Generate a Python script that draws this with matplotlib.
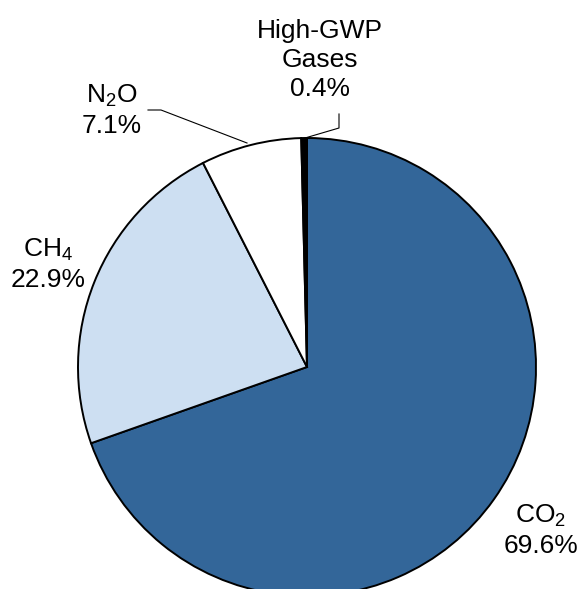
import matplotlib.pyplot as plt

plt.rcParams["font.family"] = ["Liberation Sans", "DejaVu Sans"]
plt.rcParams["mathtext.fontset"] = "custom"
plt.rcParams["mathtext.rm"] = "Liberation Sans"

gases = ["CO$_\\mathregular{2}$", "CH$_\\mathregular{4}$", "N$_\\mathregular{2}$O", "High-GWP\nGases"]
shares = [69.6, 22.9, 7.1, 0.4]
colors = ["#336699", "#cddff2", "#ffffff", "#000000"]

W, H = 581, 589
fig = plt.figure(figsize=(W / 100, H / 100), dpi=100)
ax = fig.add_axes([0, 0, 1, 1])

# pie in pixel-like coordinates (y flipped)
ax.pie(shares, colors=colors, startangle=90, counterclock=False,
       center=(307, H - 367), radius=229,
       wedgeprops=dict(edgecolor="black", linewidth=1.4))

ax.set_xlim(0, W)
ax.set_ylim(0, H)
ax.set_aspect("equal")
ax.axis("off")

fs = 19
labels = [f"{g}\n{s}%" for g, s in zip(gases, shares)]
pos = [(541, H - 530), (48, H - 264), (112, H - 110), (320, H - 60)]
for lab, (x, y) in zip(labels, pos):
    ax.text(x, y, lab, ha="center", va="center", fontsize=fs, linespacing=1.25)

# leader lines
ax.plot([148, 161, 247], [H - 110, H - 110, H - 143], color="black", lw=0.8)
ax.plot([305, 339, 339], [H - 138, H - 128, H - 114], color="black", lw=0.8)

fig.savefig("out.png", dpi=100)
